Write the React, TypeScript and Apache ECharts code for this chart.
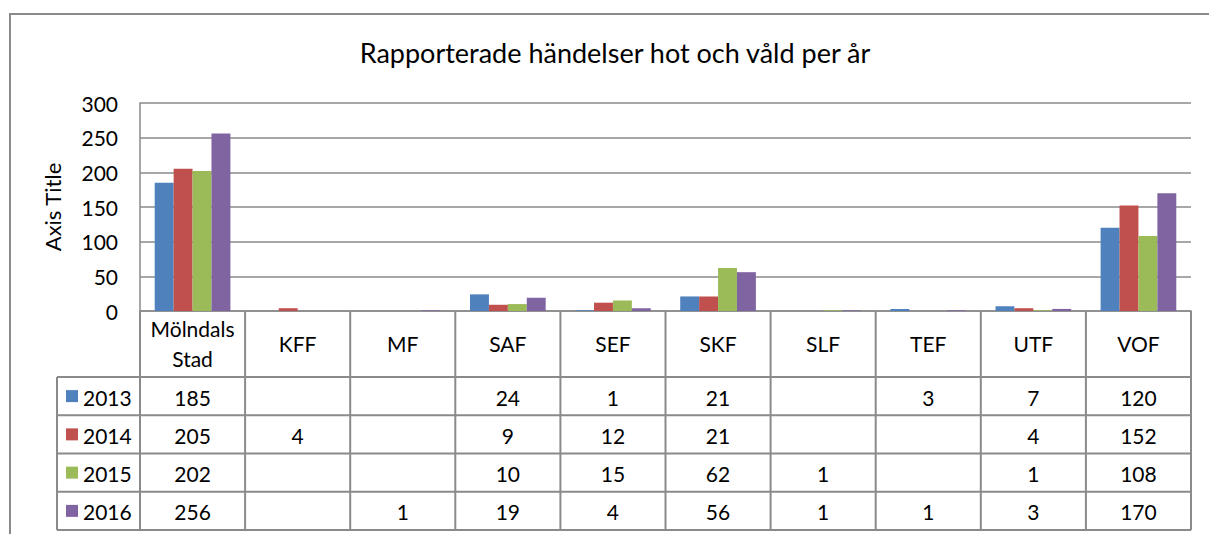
import React, { useEffect, useRef } from "react";
import * as echarts from "echarts";

const categories = ["Mölndals\nStad", "KFF", "MF", "SAF", "SEF", "SKF", "SLF", "TEF", "UTF", "VOF"];
const seriesNames = ["2013", "2014", "2015", "2016"];
const v2013 = [185, null, null, 24, 1, 21, null, 3, 7, 120];
const v2014 = [205, 4, null, 9, 12, 21, null, null, 4, 152];
const v2015 = [202, null, null, 10, 15, 62, 1, null, 1, 108];
const v2016 = [256, null, 1, 19, 4, 56, 1, 1, 3, 170];
const yTicks = [0, 50, 100, 150, 200, 250, 300];
const colors = ["#4F81BD", "#C0504D", "#9BBB59", "#8064A2"];
const titleText = "Rapporterade händelser hot och våld per år";
const axisTitle = "Axis Title";

const FONT = "Lato, 'Liberation Sans', sans-serif";
const LINE = "#8a8a8a";

export default function App() {
  const ref = useRef<HTMLDivElement>(null);
  useEffect(() => {
    if (!ref.current) return;
    const chart = echarts.init(ref.current, undefined, { renderer: "svg" });
    const all = [v2013, v2014, v2015, v2016];
    const gridTop = 103;
    const gridBottomY = 311;
    chart.setOption({
      animation: false,
      textStyle: { fontFamily: FONT },
      grid: { left: 140, right: 18, top: gridTop, bottom: 534 - gridBottomY, containLabel: false },
      xAxis: {
        type: "category",
        data: categories,
        axisLine: { show: true, lineStyle: { color: LINE, width: 1.5 } },
        axisTick: { show: false },
        axisLabel: { show: false },
        splitLine: { show: false },
      },
      yAxis: {
        type: "value",
        min: yTicks[0],
        max: yTicks[yTicks.length - 1],
        interval: 50,
        name: axisTitle,
        nameLocation: "middle",
        nameGap: 77,
        nameRotate: 90,
        nameTextStyle: { fontFamily: FONT, fontSize: 22, color: "#000" },
        axisLine: { show: true, lineStyle: { color: LINE, width: 1.5 } },
        axisTick: { show: false },
        axisLabel: { fontFamily: FONT, fontSize: 21, color: "#000", margin: 22 },
        splitLine: { show: true, lineStyle: { color: LINE, width: 1.5 } },
      },
      series: all.map((d, i) => ({
        type: "bar",
        name: seriesNames[i],
        data: d,
        barGap: "0%",
        barCategoryGap: "28%",
        itemStyle: { color: colors[i] },
      })),
    });

    const c0 = chart.convertToPixel({ xAxisIndex: 0 }, 0) as number;
    const c1 = chart.convertToPixel({ xAxisIndex: 0 }, 1) as number;
    const band = c1 - c0;
    const left = c0 - band / 2;
    const right = left + band * categories.length;
    const headTop = gridBottomY;
    const headBottom = 377;
    const rowH = (530 - headBottom) / 4;
    const legendLeft = 57;
    const g: any[] = [];
    g.push({ type: "rect", shape: { x: 10, y: 14, width: 1260, height: 700 }, style: { fill: "none", stroke: LINE, lineWidth: 2 }, silent: true });
    g.push({ type: "text", x: 615, y: 52, style: { text: titleText, font: `27px ${FONT}`, fill: "#000", align: "center", verticalAlign: "middle" } });
    const ln = (x1: number, y1: number, x2: number, y2: number) =>
      g.push({ type: "line", shape: { x1, y1, x2, y2 }, style: { stroke: LINE, lineWidth: 2 } });
    for (let i = 0; i <= categories.length; i++) {
      const x = left + band * i;
      ln(x, headTop, x, 530);
    }
    ln(legendLeft, headBottom, right, headBottom);
    for (let r = 1; r <= 4; r++) ln(legendLeft, headBottom + rowH * r, right, headBottom + rowH * r);
    ln(legendLeft, headBottom, legendLeft, 530);
    categories.forEach((c, i) => {
      const cx = left + band * (i + 0.5);
      g.push({ type: "text", x: cx, y: (headTop + headBottom) / 2 - 1, style: { text: c, font: `21px ${FONT}`, fill: "#000", align: "center", verticalAlign: "middle", lineHeight: 30 } });
    });
    all.forEach((d, r) => {
      const cy = headBottom + rowH * (r + 0.5);
      g.push({ type: "rect", shape: { x: 66, y: cy - 6, width: 12, height: 12 }, style: { fill: colors[r] } });
      g.push({ type: "text", x: 83, y: cy + 1, style: { text: seriesNames[r], font: `21px ${FONT}`, fill: "#000", align: "left", verticalAlign: "middle" } });
      d.forEach((v, i) => {
        if (v === null) return;
        const cx = left + band * (i + 0.5);
        g.push({ type: "text", x: cx, y: cy + 1, style: { text: String(v), font: `21px ${FONT}`, fill: "#000", align: "center", verticalAlign: "middle" } });
      });
    });
    chart.setOption({ graphic: g });
    return () => chart.dispose();
  }, []);
  return <div ref={ref} style={{ position: "fixed", left: 0, top: 0, width: 1209, height: 534, background: "#fff" }} />;
}
